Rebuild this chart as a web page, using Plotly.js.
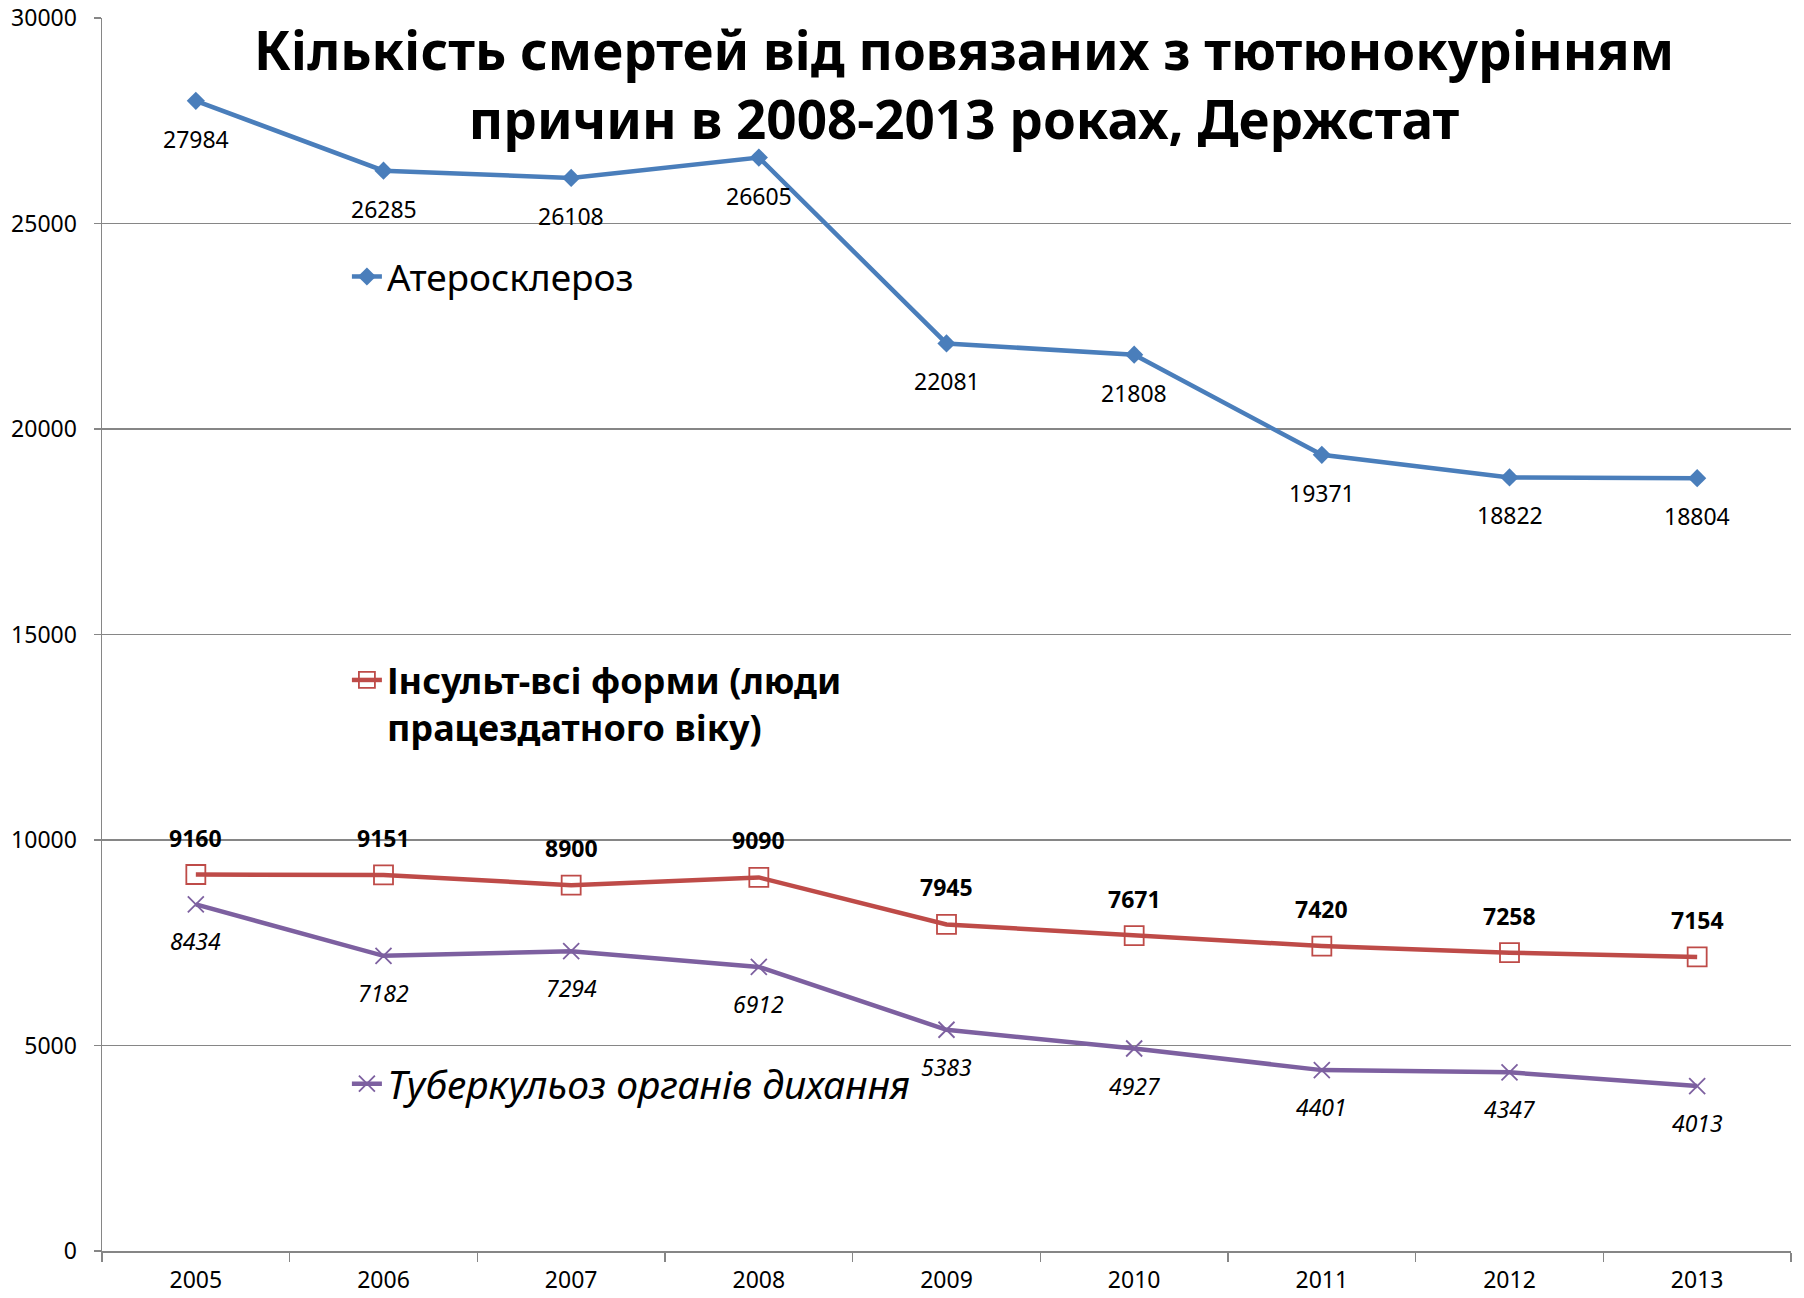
<!DOCTYPE html>
<html>
<head>
<meta charset="utf-8">
<script src="https://cdn.plot.ly/plotly-3.0.1.min.js"></script>
<style>html,body{margin:0;padding:0;background:#fff;}#chart{width:1804px;height:1298px;}</style>
</head>
<body>
<div id="chart"></div>
<script>
const years = ["2005","2006","2007","2008","2009","2010","2011","2012","2013"];
const atherosclerosis = [27984, 26285, 26108, 26605, 22081, 21808, 19371, 18822, 18804];
const stroke = [9160, 9151, 8900, 9090, 7945, 7671, 7420, 7258, 7154];
const tuberculosis = [8434, 7182, 7294, 6912, 5383, 4927, 4401, 4347, 4013];
const titleText = "Кількість смертей від повязаних з тютюнокурінням<br>причин в 2008-2013 роках, Держстат";
const nameA = "Атеросклероз";
const nameS = "Інсульт-всі форми (люди<br>працездатного віку)";
const nameT = "Туберкульоз органів дихання";

const FONT = "Noto Sans, Open Sans, sans-serif";
const blue = "#4A7EBB", red = "#BE4B48", purple = "#7D60A0";
const grid = "#868686";

const traces = [
  {x: years, y: atherosclerosis, name: nameA, type: "scatter", mode: "lines+markers",
   line: {color: blue, width: 4.5}, marker: {symbol: "diamond", size: 14, color: blue},
   legend: "legend"},
  {x: years, y: stroke, name: nameS, type: "scatter", mode: "lines+markers",
   line: {color: red, width: 4.5}, marker: {symbol: "square-open", size: 19, color: red, line: {width: 1.8, color: red}},
   legend: "legend2"},
  {x: years, y: tuberculosis, name: nameT, type: "scatter", mode: "lines+markers",
   line: {color: purple, width: 4.5}, marker: {symbol: "x-thin-open", size: 16, color: purple, line: {width: 1.8, color: purple}},
   legend: "legend3"}
];

// annotations on a category axis are positioned by category index
const annotations = [];
years.forEach((yr, i) => {
  annotations.push({x: i, y: atherosclerosis[i], text: String(atherosclerosis[i]), showarrow: false,
    yshift: -38, font: {family: FONT, size: 23, color: "#000"}});
  annotations.push({x: i, y: stroke[i], text: "<b>" + stroke[i] + "</b>", showarrow: false,
    yshift: 37, font: {family: FONT, size: 23, color: "#000"}});
  annotations.push({x: i, y: tuberculosis[i], text: "<i>" + tuberculosis[i] + "</i>", showarrow: false,
    yshift: -37, font: {family: FONT, size: 23, color: "#000"}});
});

const layout = {
  width: 1804, height: 1298,
  margin: {l: 102, r: 13, t: 18, b: 47},
  paper_bgcolor: "#fff", plot_bgcolor: "#fff",
  font: {family: FONT, size: 23, color: "#000"},
  title: {text: titleText, x: 0.5344, xref: "container", xanchor: "center",
    y: 0.9457, yref: "container", yanchor: "middle",
    font: {family: FONT, size: 53, color: "#000", weight: "bold"}},
  xaxis: {type: "category", range: [-0.5, 8.5], tickson: "boundaries", ticks: "outside", ticklen: 9, tickwidth: 1.5,
    tickcolor: grid, showline: true, linecolor: grid, linewidth: 1.5, showgrid: false, tickangle: 0,
    ticklabelstandoff: 8,
    tickfont: {family: FONT, size: 23, color: "#000"}, zeroline: false, fixedrange: true},
  yaxis: {range: [0, 30000], dtick: 5000, ticks: "outside", ticklen: 7, tickwidth: 1.5,
    tickcolor: grid, showline: true, linecolor: grid, linewidth: 1.5, showgrid: true,
    gridcolor: grid, gridwidth: 1.5, zeroline: false, tickformat: "d", ticklabelstandoff: 12,
    tickfont: {family: FONT, size: 23, color: "#000"}, fixedrange: true},
  showlegend: true,
  legend: {x: 0.145, y: 0.79, xanchor: "left", yanchor: "middle", bgcolor: "rgba(0,0,0,0)",
    font: {family: FONT, size: 37, color: "#000"}},
  legend2: {x: 0.145, y: 0.444, xanchor: "left", yanchor: "middle", bgcolor: "rgba(0,0,0,0)", valign: "top",
    font: {family: FONT, size: 36, color: "#000", weight: "bold"}},
  legend3: {x: 0.145, y: 0.1356, xanchor: "left", yanchor: "middle", bgcolor: "rgba(0,0,0,0)",
    font: {family: FONT, size: 39, color: "#000", style: "italic"}},
  annotations: annotations
};

Plotly.newPlot("chart", traces, layout, {displayModeBar: false, staticPlot: true});
</script>
</body>
</html>
